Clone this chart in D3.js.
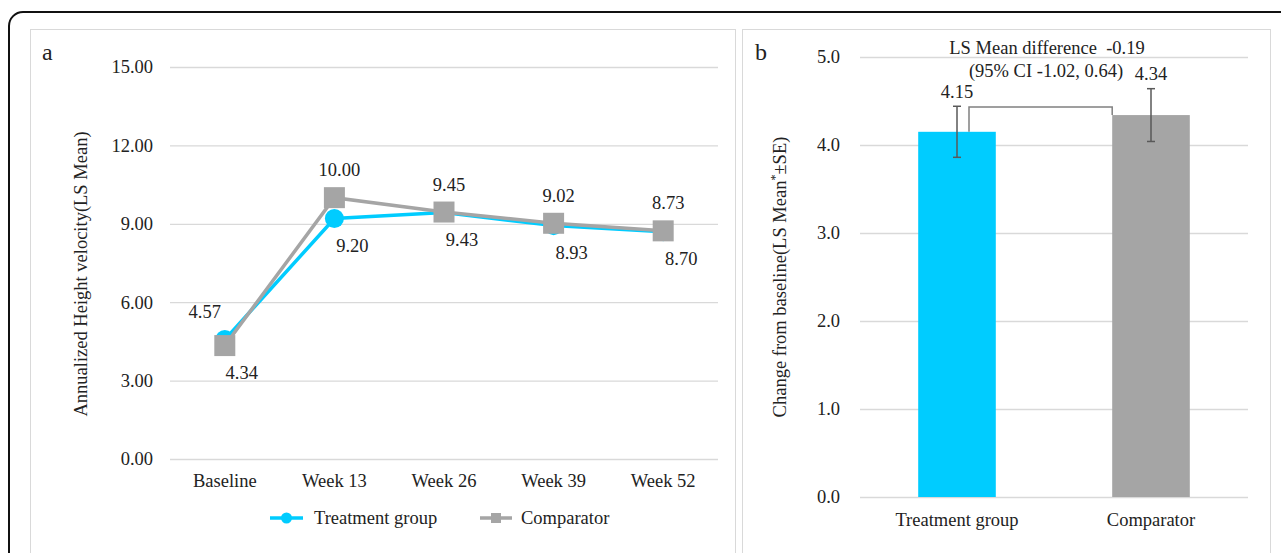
<!DOCTYPE html>
<html>
<head>
<meta charset="utf-8">
<script src="https://cdn.jsdelivr.net/npm/d3@7"></script>
<style>
  html, body { margin: 0; padding: 0; background: #fff; }
  svg { display: block; }
  text { font-family: "Liberation Serif", "Times New Roman", serif; fill: #222; }
</style>
</head>
<body>
<svg id="chart" width="1281" height="553"></svg>
<script>
// ---------- Data ----------
const timepoints = ["Baseline", "Week 13", "Week 26", "Week 39", "Week 52"];
const treatmentVelocity = [4.57, 9.20, 9.43, 8.93, 8.70];
const comparatorVelocity = [4.34, 10.00, 9.45, 9.02, 8.73];
const velocityTicks = [0, 3, 6, 9, 12, 15];

const groups = ["Treatment group", "Comparator"];
const changeMeans = [4.15, 4.34];
const changeSE = [0.29, 0.30];
const changeTicks = [0, 1, 2, 3, 4, 5];
const diffLine1 = "LS Mean difference  -0.19";
const diffLine2 = "(95% CI -1.02, 0.64)";

const seriesNames = ["Treatment group", "Comparator"];
const colors = { treat: "#00CCFF", comp: "#A5A5A5" };
const FS = 18.5;

// ---------- Frame ----------
const svg = d3.select("#chart");
svg.append("rect").attr("x", 9).attr("y", 12).attr("width", 1300).attr("height", 600)
  .attr("rx", 14).attr("fill", "none").attr("stroke", "#111").attr("stroke-width", 2);
svg.append("rect").attr("x", 30.5).attr("y", 29.5).attr("width", 705).attr("height", 600)
  .attr("fill", "none").attr("stroke", "#d9d9d9").attr("stroke-width", 1);
svg.append("rect").attr("x", 742.5).attr("y", 29.5).attr("width", 528).attr("height", 600)
  .attr("fill", "none").attr("stroke", "#d9d9d9").attr("stroke-width", 1);

svg.append("text").attr("x", 42).attr("y", 60).attr("font-size", 24).text("a");
svg.append("text").attr("x", 755).attr("y", 60).attr("font-size", 24).text("b");

// ---------- Panel a ----------
const xA = d3.scaleBand().domain(timepoints).range([170, 718]);
const yA = d3.scaleLinear().domain([0, 15]).range([459, 67]);

const gAy = svg.append("g").attr("transform", "translate(170,0)")
  .call(d3.axisLeft(yA).tickValues(velocityTicks).tickFormat(d3.format(".2f"))
    .tickSize(-548).tickPadding(17));
gAy.select(".domain").remove();
gAy.selectAll(".tick line").attr("stroke", "#d9d9d9").attr("stroke-width", 1.3);
gAy.selectAll(".tick text").attr("font-size", FS).attr("fill", "#222")
  .attr("font-family", "Liberation Serif, serif");

const gAx = svg.append("g").attr("transform", "translate(0,459)")
  .call(d3.axisBottom(xA).tickSize(0).tickPadding(15));
gAx.select(".domain").remove();
gAx.selectAll(".tick text").attr("font-size", FS).attr("fill", "#222")
  .attr("font-family", "Liberation Serif, serif");

svg.append("text")
  .attr("transform", `translate(87,274) rotate(-90)`)
  .attr("text-anchor", "middle").attr("font-size", FS)
  .text("Annualized Height velocity(LS Mean)");

const cx = d => xA(d) + xA.bandwidth() / 2;
const line = d3.line().x(d => cx(d.t)).y(d => yA(d.v));
const treatData = timepoints.map((t, i) => ({ t, v: treatmentVelocity[i], o: comparatorVelocity[i] }));
const compData = timepoints.map((t, i) => ({ t, v: comparatorVelocity[i], o: treatmentVelocity[i] }));

svg.append("path").datum(treatData).attr("d", line).attr("fill", "none")
  .attr("stroke", colors.treat).attr("stroke-width", 3.5);
svg.selectAll(".tdot").data(treatData).join("circle").attr("class", "tdot")
  .attr("cx", d => cx(d.t)).attr("cy", d => yA(d.v)).attr("r", 9.5).attr("fill", colors.treat);

svg.append("path").datum(compData).attr("d", line).attr("fill", "none")
  .attr("stroke", colors.comp).attr("stroke-width", 3.5);
svg.selectAll(".csq").data(compData).join("rect").attr("class", "csq")
  .attr("x", d => cx(d.t) - 10.5).attr("y", d => yA(d.v) - 10.5)
  .attr("width", 21).attr("height", 21).attr("fill", colors.comp);

function labelPos(d, i) {
  const above = d.v > d.o;
  if (above) return { x: cx(d.t) + (i === 0 ? -20 : 5), y: yA(d.v) - 28 };
  return { x: cx(d.t) + (i === 0 ? 17 : 18), y: yA(d.v) + 27 };
}
[treatData, compData].forEach(data => {
  svg.append("g").selectAll("text").data(data).join("text")
    .attr("x", (d, i) => labelPos(d, i).x).attr("y", (d, i) => labelPos(d, i).y)
    .attr("dy", "0.35em").attr("text-anchor", "middle").attr("font-size", FS)
    .text(d => d.v.toFixed(2));
});

// legend
const lg = svg.append("g");
lg.append("line").attr("x1", 270).attr("x2", 303).attr("y1", 518).attr("y2", 518)
  .attr("stroke", colors.treat).attr("stroke-width", 3.5);
lg.append("circle").attr("cx", 286.5).attr("cy", 518).attr("r", 5.5).attr("fill", colors.treat);
lg.append("text").attr("x", 314).attr("y", 518).attr("dy", "0.35em").attr("font-size", FS).text(seriesNames[0]);
lg.append("line").attr("x1", 480).attr("x2", 512).attr("y1", 518).attr("y2", 518)
  .attr("stroke", colors.comp).attr("stroke-width", 3.5);
lg.append("rect").attr("x", 491).attr("y", 513).attr("width", 10).attr("height", 10).attr("fill", colors.comp);
lg.append("text").attr("x", 521).attr("y", 518).attr("dy", "0.35em").attr("font-size", FS).text(seriesNames[1]);

// ---------- Panel b ----------
const xB = d3.scaleBand().domain(groups).range([860, 1248]).paddingInner(0.6).paddingOuter(0.3);
const yB = d3.scaleLinear().domain([0, 5]).range([497, 57]);

const gBy = svg.append("g").attr("transform", "translate(860,0)")
  .call(d3.axisLeft(yB).tickValues(changeTicks).tickFormat(d3.format(".1f"))
    .tickSize(-388).tickPadding(20));
gBy.select(".domain").remove();
gBy.selectAll(".tick line").attr("stroke", "#d9d9d9").attr("stroke-width", 1.3);
gBy.selectAll(".tick text").attr("font-size", FS).attr("fill", "#222")
  .attr("font-family", "Liberation Serif, serif");

const gBx = svg.append("g").attr("transform", "translate(0,497)")
  .call(d3.axisBottom(xB).tickSize(0).tickPadding(16));
gBx.select(".domain").remove();
gBx.selectAll(".tick text").attr("font-size", FS).attr("fill", "#222")
  .attr("font-family", "Liberation Serif, serif");

const yt = svg.append("text")
  .attr("transform", `translate(786,${(yB(0) + yB(5)) / 2}) rotate(-90)`)
  .attr("text-anchor", "middle").attr("font-size", FS);
yt.append("tspan").text("Change from baseline(LS Mean");
yt.append("tspan").attr("font-size", 12).attr("dy", -7).text("*");
yt.append("tspan").attr("dy", 7).text("±SE)");

const barData = groups.map((g, i) => ({ g, v: changeMeans[i], se: changeSE[i] }));
const barColors = [colors.treat, colors.comp];
svg.selectAll(".bar").data(barData).join("rect").attr("class", "bar")
  .attr("x", d => xB(d.g)).attr("width", xB.bandwidth())
  .attr("y", d => yB(d.v)).attr("height", d => yB(0) - yB(d.v))
  .attr("fill", (d, i) => barColors[i]);

// bracket
const bx1 = xB(groups[0]) + xB.bandwidth() / 2 + 12;
const bx2 = xB(groups[1]);
const bTop = yB(Math.max(...changeMeans)) - 8;
svg.append("path")
  .attr("d", `M${bx1},${yB(changeMeans[0])}V${bTop}H${bx2}V${yB(changeMeans[1])}`)
  .attr("fill", "none").attr("stroke", "#808080").attr("stroke-width", 1.5);

// error bars
const eb = svg.append("g").attr("stroke", "#595959").attr("stroke-width", 1.5);
barData.forEach(d => {
  const x = xB(d.g) + xB.bandwidth() / 2;
  eb.append("line").attr("x1", x).attr("x2", x).attr("y1", yB(d.v + d.se)).attr("y2", yB(d.v - d.se));
  eb.append("line").attr("x1", x - 4).attr("x2", x + 4).attr("y1", yB(d.v + d.se)).attr("y2", yB(d.v + d.se));
  eb.append("line").attr("x1", x - 4).attr("x2", x + 4).attr("y1", yB(d.v - d.se)).attr("y2", yB(d.v - d.se));
});
svg.selectAll(".blab").data(barData).join("text").attr("class", "blab")
  .attr("x", d => xB(d.g) + xB.bandwidth() / 2)
  .attr("y", d => yB(d.v + d.se) - 15).attr("dy", "0.35em")
  .attr("text-anchor", "middle").attr("font-size", FS)
  .text(d => d.v.toFixed(2));

svg.append("text").attr("x", 1047).attr("y", 48).attr("dy", "0.35em")
  .attr("text-anchor", "middle").attr("font-size", FS)
  .style("white-space", "pre").text(diffLine1);
svg.append("text").attr("x", 1046).attr("y", 71).attr("dy", "0.35em")
  .attr("text-anchor", "middle").attr("font-size", FS).text(diffLine2);
</script>
</body>
</html>
